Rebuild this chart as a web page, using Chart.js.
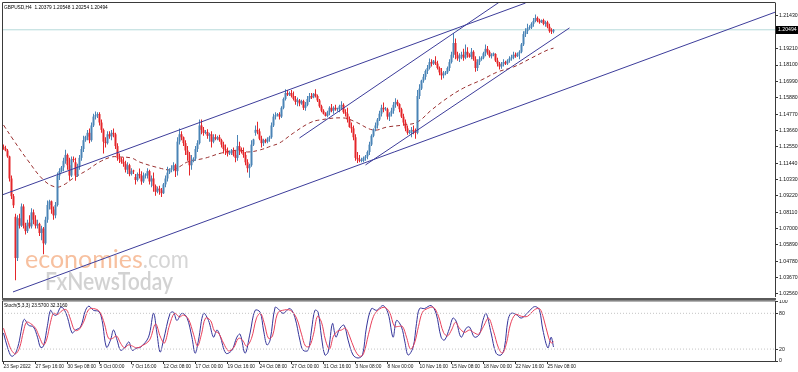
<!DOCTYPE html>
<html><head><meta charset="utf-8">
<script src="https://cdn.jsdelivr.net/npm/chart.js@4.4.0/dist/chart.umd.min.js"></script>
<style>
html,body{margin:0;padding:0;background:#fff;width:798px;height:372px;overflow:hidden}
canvas{position:absolute;left:0}
#main{top:0}#sub{top:300px}
</style></head><body>
<canvas id="main" width="798" height="300"></canvas>
<canvas id="sub" width="798" height="72"></canvas>
<script>
const symbol = "GBPUSD", timeframe = "H4";
const opens = [
1.1255,1.1245,1.1230,1.1190,1.1040,1.0920,
1.0780,1.0500,1.0770,1.0720,1.0850,1.0720,
1.0683,1.0740,1.0715,1.0810,1.0760,1.0720,
1.0732,1.0670,1.0700,1.0600,1.0760,1.0860,
1.0885,1.0830,1.0790,1.0860,1.1060,1.1090,
1.1115,1.1160,1.1200,1.1130,1.1060,1.1170,
1.1150,1.1060,1.1120,1.1180,1.1240,1.1300,
1.1324,1.1350,1.1300,1.1400,1.1460,1.1470,
1.1477,1.1420,1.1370,1.1290,1.1280,1.1340,
1.1326,1.1350,1.1340,1.1260,1.1180,1.1170,
1.1153,1.1140,1.1100,1.1130,1.1070,1.1090,
1.1050,1.1030,1.1070,1.1060,1.1020,1.1060,
1.1060,1.1090,1.1020,1.1040,1.0990,1.0950,
1.0971,1.0960,1.0940,1.1000,1.1040,1.1080,
1.1100,1.1110,1.1130,1.1090,1.1290,1.1340,
1.1320,1.1280,1.1230,1.1200,1.1130,1.1160,
1.1175,1.1240,1.1280,1.1400,1.1370,1.1350,
1.1355,1.1330,1.1340,1.1290,1.1320,1.1310,
1.1320,1.1300,1.1270,1.1240,1.1230,1.1210,
1.1214,1.1230,1.1200,1.1180,1.1260,1.1230,
1.1220,1.1200,1.1150,1.1110,1.1130,1.1270,
1.1350,1.1370,1.1360,1.1310,1.1280,1.1300,
1.1290,1.1310,1.1320,1.1400,1.1460,1.1470,
1.1475,1.1460,1.1520,1.1580,1.1620,1.1610,
1.1620,1.1600,1.1580,1.1560,1.1570,1.1550,
1.1565,1.1520,1.1540,1.1580,1.1600,1.1590,
1.1615,1.1600,1.1570,1.1530,1.1500,1.1480,
1.1465,1.1490,1.1520,1.1500,1.1520,1.1510,
1.1510,1.1530,1.1540,1.1490,1.1480,1.1440,
1.1390,1.1380,1.1320,1.1180,1.1170,1.1160,
1.1160,1.1180,1.1190,1.1220,1.1270,1.1330,
1.1380,1.1400,1.1440,1.1480,1.1520,1.1510,
1.1510,1.1460,1.1480,1.1500,1.1540,1.1560,
1.1545,1.1510,1.1460,1.1420,1.1380,1.1350,
1.1350,1.1370,1.1360,1.1350,1.1600,1.1650,
1.1705,1.1730,1.1770,1.1790,1.1830,1.1820,
1.1830,1.1820,1.1790,1.1760,1.1740,1.1750,
1.1760,1.1790,1.1830,1.1880,1.1960,1.1880,
1.1855,1.1870,1.1880,1.1860,1.1900,1.1880,
1.1866,1.1900,1.1850,1.1790,1.1830,1.1850,
1.1860,1.1890,1.1920,1.1900,1.1870,1.1880,
1.1885,1.1840,1.1820,1.1800,1.1815,1.1830,
1.1820,1.1840,1.1855,1.1860,1.1880,1.1870,
1.1890,1.1900,1.1950,1.2020,1.2040,1.2060,
1.2065,1.2090,1.2110,1.2130,1.2110,1.2100,
1.2115,1.2090,1.2100,1.2070,1.2040,1.20379];
const highs = [
1.1270,1.1262,1.1240,1.1195,1.1060,1.0935,
1.0800,1.0790,1.0800,1.0870,1.0865,1.0740,
1.0760,1.0790,1.0838,1.0830,1.0790,1.0760,
1.0740,1.0720,1.0710,1.0780,1.0890,1.0895,
1.0890,1.0850,1.0880,1.1080,1.1110,1.1125,
1.1180,1.1235,1.1210,1.1180,1.1190,1.1190,
1.1180,1.1140,1.1200,1.1260,1.1330,1.1330,
1.1370,1.1380,1.1420,1.1480,1.1495,1.1490,
1.1490,1.1440,1.1380,1.1320,1.1360,1.1360,
1.1370,1.1380,1.1350,1.1280,1.1210,1.1185,
1.1185,1.1160,1.1150,1.1140,1.1110,1.1100,
1.1070,1.1080,1.1108,1.1090,1.1080,1.1075,
1.1110,1.1100,1.1060,1.1080,1.1000,1.0985,
1.0990,1.0975,1.1010,1.1060,1.1120,1.1110,
1.1130,1.1150,1.1140,1.1320,1.1380,1.1360,
1.1325,1.1300,1.1260,1.1220,1.1200,1.1185,
1.1260,1.1300,1.1440,1.1440,1.1390,1.1370,
1.1375,1.1350,1.1360,1.1340,1.1340,1.1330,
1.1337,1.1310,1.1290,1.1270,1.1250,1.1230,
1.1240,1.1250,1.1230,1.1335,1.1290,1.1250,
1.1250,1.1220,1.1170,1.1140,1.1300,1.1310,
1.1400,1.1425,1.1380,1.1330,1.1310,1.1310,
1.1320,1.1330,1.1420,1.1480,1.1490,1.1485,
1.1490,1.1530,1.1590,1.1645,1.1640,1.1630,
1.1640,1.1630,1.1600,1.1590,1.1580,1.1575,
1.1575,1.1560,1.1600,1.1620,1.1620,1.1620,
1.1645,1.1610,1.1580,1.1540,1.1510,1.1490,
1.1500,1.1530,1.1545,1.1530,1.1540,1.1520,
1.1540,1.1565,1.1550,1.1510,1.1520,1.1460,
1.1420,1.1400,1.1340,1.1220,1.1200,1.1180,
1.1190,1.1200,1.1230,1.1290,1.1340,1.1380,
1.1420,1.1450,1.1500,1.1540,1.1555,1.1525,
1.1520,1.1490,1.1520,1.1560,1.1585,1.1575,
1.1550,1.1520,1.1480,1.1440,1.1400,1.1370,
1.1390,1.1400,1.1380,1.1640,1.1680,1.1710,
1.1750,1.1780,1.1810,1.1855,1.1850,1.1845,
1.1870,1.1840,1.1800,1.1790,1.1770,1.1770,
1.1800,1.1850,1.1900,1.2028,1.1990,1.1900,
1.1890,1.1900,1.1920,1.1950,1.1930,1.1890,
1.1925,1.1910,1.1870,1.1850,1.1870,1.1870,
1.1900,1.1950,1.1940,1.1910,1.1890,1.1895,
1.1890,1.1860,1.1830,1.1830,1.1850,1.1840,
1.1850,1.1870,1.1880,1.1900,1.1895,1.1895,
1.1910,1.1960,1.2040,1.2060,1.2090,1.2080,
1.2100,1.2130,1.2153,1.2140,1.2125,1.2120,
1.2125,1.2110,1.2110,1.2090,1.2060,1.20548];
const lows = [
1.1235,1.1225,1.1180,1.1020,1.0900,1.0840,
1.0350,1.0480,1.0700,1.0710,1.0700,1.0660,
1.0670,1.0700,1.0700,1.0730,1.0700,1.0700,
1.0650,1.0620,1.0525,1.0590,1.0740,1.0830,
1.0800,1.0760,1.0770,1.0850,1.1030,1.1080,
1.1090,1.1140,1.1100,1.1026,1.1050,1.1150,
1.1025,1.1050,1.1100,1.1160,1.1220,1.1290,
1.1300,1.1280,1.1290,1.1390,1.1440,1.1450,
1.1400,1.1350,1.1209,1.1250,1.1270,1.1310,
1.1300,1.1320,1.1240,1.1160,1.1145,1.1140,
1.1120,1.1080,1.1070,1.1055,1.1060,1.1070,
1.1000,1.1020,1.1040,1.0998,1.1010,1.1040,
1.1040,1.1000,1.0980,1.0950,1.0923,1.0940,
1.0930,1.0915,1.0935,1.0980,1.1020,1.1070,
1.1082,1.1090,1.1050,1.1060,1.1270,1.1300,
1.1260,1.1200,1.1160,1.1060,1.1100,1.1150,
1.1160,1.1220,1.1270,1.1340,1.1330,1.1340,
1.1310,1.1290,1.1250,1.1280,1.1300,1.1300,
1.1290,1.1250,1.1210,1.1200,1.1190,1.1200,
1.1200,1.1190,1.1150,1.1160,1.1200,1.1210,
1.1180,1.1130,1.1080,1.1045,1.1120,1.1260,
1.1330,1.1340,1.1300,1.1250,1.1260,1.1280,
1.1280,1.1290,1.1310,1.1390,1.1440,1.1460,
1.1440,1.1450,1.1510,1.1570,1.1600,1.1600,
1.1590,1.1570,1.1540,1.1530,1.1530,1.1540,
1.1505,1.1500,1.1530,1.1560,1.1580,1.1585,
1.1590,1.1560,1.1520,1.1490,1.1475,1.1460,
1.1455,1.1470,1.1490,1.1480,1.1500,1.1495,
1.1490,1.1510,1.1480,1.1460,1.1420,1.1385,
1.1350,1.1300,1.1160,1.1145,1.1150,1.1150,
1.1150,1.1160,1.1170,1.1200,1.1260,1.1320,
1.1360,1.1380,1.1430,1.1460,1.1490,1.1500,
1.1440,1.1430,1.1460,1.1480,1.1520,1.1530,
1.1490,1.1450,1.1400,1.1360,1.1337,1.1340,
1.1320,1.1340,1.1310,1.1340,1.1580,1.1640,
1.1690,1.1710,1.1750,1.1780,1.1800,1.1810,
1.1810,1.1780,1.1740,1.1710,1.1720,1.1740,
1.1750,1.1770,1.1820,1.1860,1.1850,1.1840,
1.1830,1.1850,1.1840,1.1850,1.1860,1.1860,
1.1850,1.1840,1.1765,1.1770,1.1810,1.1840,
1.1850,1.1870,1.1880,1.1860,1.1855,1.1870,
1.1830,1.1800,1.1780,1.1785,1.1800,1.1810,
1.1810,1.1825,1.1840,1.1850,1.1860,1.1865,
1.1850,1.1890,1.1940,1.2000,1.2020,1.2050,
1.2055,1.2070,1.2100,1.2100,1.2090,1.2095,
1.2080,1.2070,1.2060,1.2030,1.2020,1.20254];
const closes = [
1.1245,1.1230,1.1190,1.1040,1.0920,1.0858,
1.0500,1.0770,1.0720,1.0850,1.0720,1.0683,
1.0740,1.0715,1.0810,1.0760,1.0720,1.0732,
1.0670,1.0700,1.0600,1.0760,1.0860,1.0885,
1.0830,1.0790,1.0860,1.1060,1.1090,1.1115,
1.1160,1.1200,1.1130,1.1060,1.1170,1.1166,
1.1060,1.1120,1.1180,1.1240,1.1300,1.1324,
1.1350,1.1300,1.1400,1.1460,1.1470,1.1477,
1.1420,1.1370,1.1290,1.1280,1.1340,1.1326,
1.1350,1.1340,1.1260,1.1180,1.1170,1.1153,
1.1140,1.1100,1.1130,1.1070,1.1090,1.1088,
1.1030,1.1070,1.1060,1.1020,1.1060,1.1060,
1.1090,1.1020,1.1040,1.0990,1.0950,1.0971,
1.0960,1.0940,1.1000,1.1040,1.1080,1.1100,
1.1110,1.1130,1.1090,1.1290,1.1340,1.1320,
1.1280,1.1230,1.1200,1.1130,1.1160,1.1175,
1.1240,1.1280,1.1400,1.1370,1.1350,1.1355,
1.1330,1.1340,1.1290,1.1320,1.1310,1.1320,
1.1300,1.1270,1.1240,1.1230,1.1210,1.1214,
1.1230,1.1200,1.1180,1.1260,1.1230,1.1220,
1.1200,1.1150,1.1110,1.1130,1.1270,1.1305,
1.1370,1.1360,1.1310,1.1280,1.1300,1.1290,
1.1310,1.1320,1.1400,1.1460,1.1470,1.1475,
1.1460,1.1520,1.1580,1.1620,1.1610,1.1620,
1.1600,1.1580,1.1560,1.1570,1.1550,1.1565,
1.1520,1.1540,1.1580,1.1600,1.1590,1.1615,
1.1600,1.1570,1.1530,1.1500,1.1480,1.1465,
1.1490,1.1520,1.1500,1.1520,1.1510,1.1510,
1.1530,1.1540,1.1490,1.1480,1.1440,1.1390,
1.1380,1.1320,1.1180,1.1170,1.1160,1.1160,
1.1180,1.1190,1.1220,1.1270,1.1330,1.1375,
1.1400,1.1440,1.1480,1.1520,1.1510,1.1510,
1.1460,1.1480,1.1500,1.1540,1.1560,1.1545,
1.1510,1.1460,1.1420,1.1380,1.1350,1.1350,
1.1370,1.1360,1.1350,1.1600,1.1650,1.1705,
1.1730,1.1770,1.1790,1.1830,1.1820,1.1840,
1.1820,1.1790,1.1760,1.1740,1.1750,1.1760,
1.1790,1.1830,1.1880,1.1960,1.1880,1.1855,
1.1870,1.1880,1.1860,1.1900,1.1880,1.1866,
1.1900,1.1850,1.1790,1.1830,1.1850,1.1860,
1.1890,1.1920,1.1900,1.1870,1.1880,1.1890,
1.1840,1.1820,1.1800,1.1815,1.1830,1.1820,
1.1840,1.1855,1.1860,1.1880,1.1870,1.1890,
1.1900,1.1950,1.2020,1.2040,1.2060,1.2065,
1.2090,1.2110,1.2130,1.2110,1.2100,1.2115,
1.2090,1.2100,1.2070,1.2040,1.20379,1.20494];

const priceTicks = [1.21430,1.20320,1.19210,1.18100,1.16990,1.15880,1.14770,1.13660,1.12550,1.11440,1.10330,1.09220,1.08110,1.07000,1.05890,1.04780,1.03670,1.02560];
const timeTickIdx = [0,16,32,48,64,80,96,112,128,144,160,176,192,208,224,240,256,272];
const timeTickLabels = ["23 Sep 2022","27 Sep 16:00","30 Sep 08:00","5 Oct 00:00","7 Oct 16:00","12 Oct 08:00","17 Oct 00:00","19 Oct 16:00","24 Oct 08:00","27 Oct 00:00","31 Oct 16:00","3 Nov 08:00","8 Nov 00:00","10 Nov 16:00","15 Nov 08:00","18 Nov 00:00","22 Nov 16:00","25 Nov 08:00"];

const maIdx = [0,5,12,20,26,30,35,42,48,54,58,64,68,78,84,88,92,101,109,118,122,128,134,138,145,153,158,170,176,185,192,200,207,214,222,230,239,247,255,264,272,275];
const maVal = [1.1403,1.1301,1.1166,1.1030,1.0982,1.0996,1.1043,1.1098,1.1152,1.1186,1.1186,1.1179,1.1152,1.1111,1.1098,1.1120,1.1152,1.1179,1.1213,1.1233,1.1220,1.1233,1.1261,1.1281,1.1349,1.1417,1.1437,1.1451,1.1424,1.1369,1.1390,1.1403,1.1424,1.1505,1.1587,1.1654,1.1709,1.1763,1.1797,1.1858,1.1912,1.1925];

const stochKIdx = [0,2,4,6,8,9.5,10.5,12.5,15,17,18.5,20,22,23.5,25,26.5,28.5,30,32,34.3,36,38.5,41,42.7,45,47.7,49.3,51.5,53.5,55,56.8,58.5,60.5,62.7,64.3,66.8,68.5,72.5,75,76.7,78.3,80,83.3,85,86.7,89.2,91.7,94.2,95.8,97.5,100,102.5,105,106.7,108.3,111.2,114.2,116.7,118.3,120.8,123.3,125.8,128.3,130,131.7,133.3,135.8,137.5,139.8,143.2,145.7,148.2,149.8,152.3,154,155.7,157.3,159,160.7,162.3,164.5,166.2,168.2,170.3,172.3,174.8,177.3,179.5,181.5,184,186.5,189.8,192.3,194.8,196.5,199,200.7,202.3,204.8,206.5,208,210.5,213.8,216.3,218.8,220.5,223,224.7,226.3,228.8,231.3,233,235.5,238,239.7,241.3,243.8,246.3,248.8,250.5,252.2,253.8,256.3,258.8,261.3,264.7,266.3,268,269.7,272.2,273.8,275];
const stochKVal = [47,23,8,13,35,63,70,60,57,40,23,25,60,85,78,77,90,88,73,47,52,57,85,92,85,83,68,23,35,52,35,18,22,32,18,22,23,40,80,47,15,35,80,82,68,80,73,40,13,35,80,68,40,52,42,13,18,40,45,13,47,85,82,52,27,35,90,87,80,88,73,35,18,18,52,85,82,40,10,15,63,40,55,60,35,10,5,10,57,88,85,93,80,40,68,57,32,10,23,63,88,88,93,80,40,35,55,72,67,40,55,57,40,45,68,80,47,13,10,23,68,80,78,72,78,90,91,85,52,22,40,23.57];
const stochDIdx = [0,2,4,6,8,10,11.5,13.5,16,18,20,21.5,23.5,25,27,29.5,31.5,33.5,35.5,37.5,40,42.5,45,48,50.5,52.5,54.5,56.5,58.5,60.5,62.5,64.5,66.5,69,73,76,78.5,80.5,83,85.5,88,90,92.5,95,97,99,101,103.5,105.5,107.5,110,112.5,115,117.5,119.5,121.5,124,126.5,128.5,130.5,132.5,134.5,137,139.5,143.5,146.5,149,151,153,155,157,159,161,163,165,167,169,171,173,175.5,178,180,182.5,185,187.5,190.5,193,195.5,197.5,199.5,201.5,203.5,205.5,207.5,209.5,212,215,217.5,220,222,224,226,228,230.5,233,235,237.5,240,242.5,245,247.5,249.5,251.5,253.5,256,259,262,265.5,268,270,272.5,274,275];
const stochDVal = [55,35,18,12,22,50,65,63,55,40,27,35,65,80,78,85,86,70,52,52,65,86,88,83,62,38,38,42,30,22,27,25,22,25,35,62,40,30,60,80,74,77,70,45,25,45,72,68,50,47,30,17,22,38,35,25,38,72,80,62,38,42,80,85,85,72,45,25,25,45,75,65,35,20,42,50,52,55,42,20,8,12,45,75,86,90,82,58,58,58,40,20,30,58,82,88,90,75,48,42,52,65,55,48,52,48,45,58,72,50,22,13,30,62,78,75,75,86,88,72,40,30,32.316];
const stochLevels = [20, 80];
const stochTicks = [0, 20, 80, 100];

const lineA = [[-0.75,1.0928],[261,1.2231]];
const lineB = [[4.75,1.0270],[386,1.2170]];
const lineC = [[148,1.1315],[248,1.2238]];
const lineD = [[181,1.1132],[283,1.2062]];

const BULL = '#4a84b6', BEAR = '#e4262a', TREND = '#3c3c9a';
const X_MIN = -0.75, X_MAX = 385.75;
const FONT = '"Liberation Sans", Arial, sans-serif';
const last = closes.length - 1;

function pts(a){ return a.map(p => ({x:p[0], y:p[1]})); }

const framePlugin = {
  id: 'frame',
  beforeDatasetsDraw(chart) {
    if (chart.canvas.id !== 'main') return;
    const c = chart.ctx;
    c.save();
    c.font = '25px Lato, "Open Sans", sans-serif';
    c.textBaseline = 'alphabetic';
    c.fillStyle = 'rgba(242,150,95,0.6)';
    c.fillText('economies', 25, 268, 125);
    const w = Math.min(c.measureText('economies').width, 125);
    c.fillStyle = 'rgba(185,185,185,0.6)';
    c.fillText('.com', 25 + w, 268, 46);
    c.font = '600 25px Lato, "Open Sans", sans-serif';
    c.fillStyle = 'rgba(180,180,180,0.6)';
    c.fillText('FxNewsToday', 45, 290, 128);
    c.restore();
  },
  afterDraw(chart) {
    const c = chart.ctx, a = chart.chartArea;
    c.save();
    c.strokeStyle = '#3a3a3a'; c.lineWidth = 1;
    c.beginPath();
    c.moveTo(a.left + 0.5, a.top - 0.5); c.lineTo(a.right + 0.5, a.top - 0.5);
    c.moveTo(a.left + 0.5, a.top - 0.5); c.lineTo(a.left + 0.5, chart.canvas.id === 'main' ? 300 : a.bottom);
    c.stroke();
    if (chart.canvas.id === 'main') {
      c.fillStyle = '#5a5a5a';
      c.fillRect(a.left, 298, a.right - a.left + 1, 2);
      c.fillStyle = '#000';
      c.font = '4.8px ' + FONT; c.textBaseline = 'middle';
      const f = v => v.toFixed(5);
      c.fillText(symbol + ',' + timeframe + '  ' + f(opens[last]) + ' ' + f(highs[last]) + ' ' + f(lows[last]) + ' ' + f(closes[last]), 4, 8);
      const y = chart.scales.y.getPixelForValue(closes[last]);
      c.fillStyle = '#000';
      c.fillRect(a.right + 1, Math.round(y) - 4, 22, 8);
      c.fillStyle = '#fff';
      c.font = '5.2px ' + FONT;
      c.fillText(f(closes[last]), a.right + 3, Math.round(y));
    } else {
      c.fillStyle = '#000';
      c.font = '4.8px ' + FONT; c.textBaseline = 'middle';
      c.fillText('Stoch(5,3,3) ' + stochKVal[stochKVal.length-1].toFixed(4) + ' ' + stochDVal[stochDVal.length-1].toFixed(4), 4, 5.5);
    }
    c.restore();
  }
};

const xAxisBase = { type: 'linear', min: X_MIN, max: X_MAX, offset: false };

new Chart(document.getElementById('main'), {
  type: 'bar',
  data: {
    datasets: [
      { type: 'line', data: [{x:X_MIN,y:closes[last]},{x:X_MAX,y:closes[last]}], borderColor: '#b5dada', borderWidth: 1, pointRadius: 0, order: 10 },
      { type: 'line', data: maIdx.map((v,i)=>({x:v,y:maVal[i]})), borderColor: '#9a3030', borderWidth: 1, borderDash: [4,3], pointRadius: 0, tension: 0.4, order: 9 },
      { type: 'bar', data: closes.map((v,i)=>({x:i,y:[lows[i],highs[i]]})), grouped: false, barThickness: 1, inflateAmount: 0, borderWidth: 0,
        backgroundColor: ctx => closes[ctx.dataIndex] >= opens[ctx.dataIndex] ? BULL : BEAR, order: 5 },
      { type: 'bar', data: closes.map((v,i)=>({x:i,y:[opens[i],closes[i]]})), grouped: false, barThickness: 2, inflateAmount: 0, borderWidth: 0, minBarLength: 1,
        backgroundColor: ctx => closes[ctx.dataIndex] >= opens[ctx.dataIndex] ? BULL : BEAR, order: 4 },
      { type: 'line', data: pts(lineA), borderColor: TREND, borderWidth: 1, pointRadius: 0, order: 1 },
      { type: 'line', data: pts(lineB), borderColor: TREND, borderWidth: 1, pointRadius: 0, order: 1 },
      { type: 'line', data: pts(lineC), borderColor: TREND, borderWidth: 1, pointRadius: 0, order: 1 },
      { type: 'line', data: pts(lineD), borderColor: TREND, borderWidth: 1, pointRadius: 0, order: 1 },
    ]
  },
  options: {
    responsive: false, animation: false, devicePixelRatio: 1, events: [],
    layout: { padding: { left: 2, top: 3, right: 0, bottom: 4 } },
    plugins: { legend: { display: false }, tooltip: { enabled: false } },
    scales: {
      x: Object.assign({}, xAxisBase, { display: false }),
      y: {
        position: 'right', min: 1.02424, max: 1.22312,
        afterBuildTicks: s => { s.ticks = priceTicks.map(v => ({value: v})); },
        afterFit: s => { s.width = 23; s.paddingTop = 0; s.paddingBottom = 0; },
        ticks: { autoSkip: false, padding: 1, color: '#111', font: { family: FONT, size: 5.2 }, callback: v => v.toFixed(5) },
        grid: { drawOnChartArea: false, tickLength: 3, tickColor: '#333' },
        border: { display: true, color: '#3a3a3a', width: 1 }
      }
    }
  },
  plugins: [framePlugin]
});

new Chart(document.getElementById('sub'), {
  type: 'line',
  data: {
    datasets: [
      ...stochLevels.map(l => ({ data: [{x:X_MIN,y:l},{x:X_MAX,y:l}], borderColor: '#c4c4c4', borderWidth: 1, borderDash: [1,2], pointRadius: 0 })),
      { data: stochDIdx.map((v,i)=>({x:v,y:stochDVal[i]})), borderColor: '#e8405a', borderWidth: 1, pointRadius: 0, tension: 0.35 },
      { data: stochKIdx.map((v,i)=>({x:v,y:stochKVal[i]})), borderColor: '#34349a', borderWidth: 1, pointRadius: 0, tension: 0.35 },
    ]
  },
  options: {
    responsive: false, animation: false, devicePixelRatio: 1, events: [],
    layout: { padding: { left: 2, top: 1.4, right: 0, bottom: 0 } },
    plugins: { legend: { display: false }, tooltip: { enabled: false } },
    scales: {
      x: Object.assign({}, xAxisBase, {
        position: 'bottom',
        afterBuildTicks: s => { s.ticks = timeTickIdx.map(v => ({value: v})); },
        afterFit: s => { s.height = 11; s.paddingLeft = 0; s.paddingRight = 0; },
        ticks: { autoSkip: false, maxRotation: 0, align: 'start', padding: 0, color: '#111', font: { family: FONT, size: 4.8 },
          callback: (v, i) => timeTickLabels[i] },
        grid: { drawOnChartArea: false, tickLength: 3, tickColor: '#333' },
        border: { display: true, color: '#3a3a3a', width: 1 }
      }),
      y: {
        position: 'right', min: 0, max: 100,
        afterBuildTicks: s => { s.ticks = stochTicks.map(v => ({value: v})); },
        afterFit: s => { s.width = 23; s.paddingTop = 0; s.paddingBottom = 0; },
        ticks: { autoSkip: false, padding: 1, color: '#111', font: { family: FONT, size: 5.2 } },
        grid: { drawOnChartArea: false, tickLength: 3, tickColor: '#333' },
        border: { display: true, color: '#3a3a3a', width: 1 }
      }
    }
  },
  plugins: [framePlugin]
});
</script>
</body></html>
